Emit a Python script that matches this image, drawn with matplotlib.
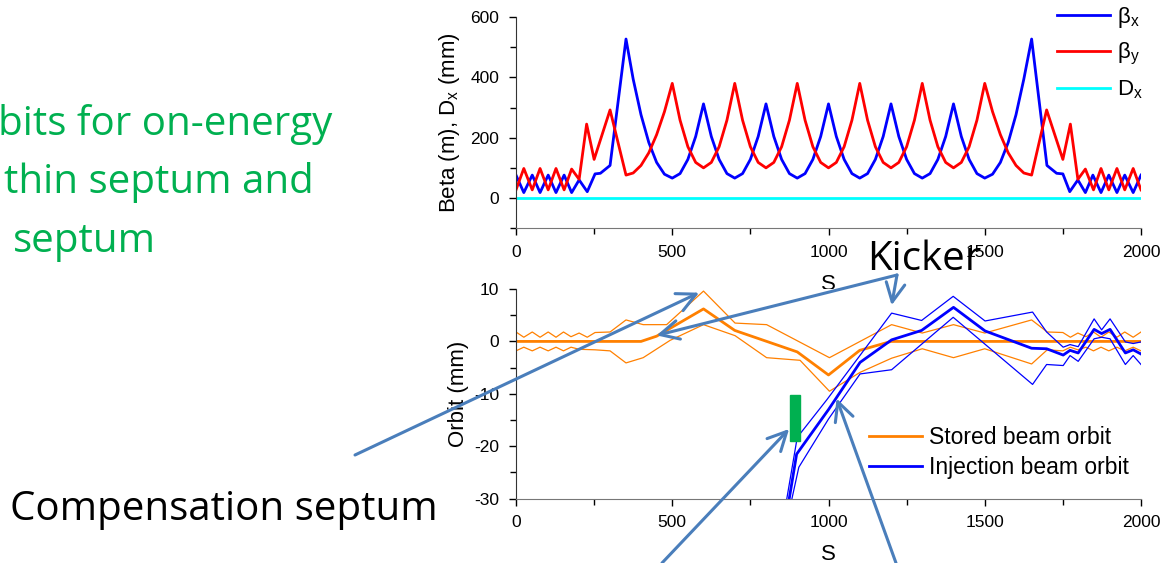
import numpy as np
import matplotlib
matplotlib.use("Agg")
import matplotlib.pyplot as plt
from matplotlib.patches import Rectangle

plt.rcParams['font.family'] = ['Liberation Sans', 'DejaVu Sans']
plt.rcParams['mathtext.fontset'] = 'custom'
plt.rcParams['mathtext.rm'] = 'Liberation Sans'
plt.rcParams['mathtext.it'] = 'Liberation Sans'
plt.rcParams['mathtext.default'] = 'regular'
plt.rcParams['axes.unicode_minus'] = False

# ---- beta functions (top panel) ----
bx_s = [0, 25, 52, 77, 103, 128, 154, 178, 202, 228, 253, 270, 301, 352, 375, 400, 425, 450, 475, 500,
        525, 550, 575, 600, 625, 650, 675, 700, 725, 750, 775, 800, 825, 850, 875, 900,
        925, 950, 975, 1000, 1025, 1050, 1075, 1100, 1125, 1150, 1175, 1200, 1225, 1250, 1275, 1300,
        1325, 1350, 1375, 1400, 1425, 1450, 1475, 1500, 1525, 1550, 1575, 1600, 1625, 1650,
        1699, 1730, 1750, 1772, 1798, 1822, 1846, 1872, 1897, 1923, 1948, 1975, 2000]
bx = [76, 18, 76, 18, 76, 18, 76, 18, 60, 21, 80, 82, 108, 527, 394, 276, 184, 118, 79, 66,
      81, 128, 204, 312, 204, 128, 81, 66, 81, 128, 204, 312, 204, 128, 81, 66,
      81, 128, 204, 312, 204, 128, 81, 66, 81, 128, 204, 312, 204, 128, 81, 66,
      81, 128, 204, 312, 204, 128, 81, 66, 79, 118, 184, 276, 394, 527,
      108, 82, 80, 21, 60, 18, 76, 18, 76, 18, 76, 18, 76]

by_s = [0, 25, 52, 77, 103, 128, 154, 178, 202, 226, 250, 301, 352, 375, 400, 425, 450, 475, 500,
        525, 550, 575, 600, 625, 650, 675, 700, 725, 750, 775, 800, 825, 850, 875, 900,
        925, 950, 975, 1000, 1025, 1050, 1075, 1100, 1125, 1150, 1175, 1200, 1225, 1250, 1275, 1300,
        1325, 1350, 1375, 1400, 1425, 1450, 1475, 1500, 1525, 1550, 1575, 1600, 1625, 1650,
        1698, 1750, 1774, 1798, 1822, 1848, 1872, 1897, 1923, 1948, 1975, 2000]
by = [27, 98, 27, 98, 27, 98, 27, 96, 62, 245, 128, 292, 76, 83, 108, 150, 210, 286, 380,
      258, 170, 118, 100, 118, 170, 258, 380, 258, 170, 118, 100, 118, 170, 258, 380,
      258, 170, 118, 100, 118, 170, 258, 380, 258, 170, 118, 100, 118, 170, 258, 380,
      258, 170, 118, 100, 118, 170, 258, 380, 286, 210, 150, 108, 83, 76,
      292, 128, 245, 62, 96, 27, 98, 27, 98, 27, 98, 27]

dx_s = [0, 2000]
dx = [0, 0]

# ---- orbits (bottom panel) ----
st_s = [0, 400, 450, 600, 700, 900, 1000, 1100, 1200, 2000]
st = [0, 0, 1.0, 6.2, 2.1, -2.0, -6.4, -1.7, 0, 0]

st_up_s = [0, 25, 52, 77, 103, 128, 152, 176, 202, 228, 253, 301, 352, 407, 482, 600, 701, 802,
           1003, 1202, 1300, 1400, 1500, 1650, 1700, 1750, 1774, 1798, 1824, 1848, 1872, 1897,
           1923, 1948, 1975, 2000]
st_up = [1.8, 0.8, 1.8, 0.8, 1.8, 0.8, 1.8, 0.9, 1.6, 0.8, 1.7, 1.8, 4.1, 3.2, 3.2, 9.6, 3.5, 3.2,
         -3.1, 3.2, 1.6, 3.2, 1.6, 4.1, 1.8, 1.7, 0.8, 1.6, 0.9, 1.8, 0.8, 1.8,
         0.8, 1.8, 0.8, 1.8]

st_lo_s = [0, 25, 52, 77, 103, 128, 152, 176, 202, 253, 301, 352, 407, 493, 600, 701, 802, 909,
           1003, 1101, 1202, 1300, 1400, 1500, 1650, 1700, 1750, 1774, 1798, 1824, 1848, 1872,
           1897, 1923, 1948, 1975, 2000]
st_lo = [-1.8, -1.1, -1.8, -1.1, -1.8, -1.1, -1.8, -1.1, -1.5, -1.6, -1.8, -4.1, -3.1, 0.2, 3.2, 1.1, -3.1, -3.6,
         -9.5, -5.9, -3.2, -1.4, -3.1, -1.4, -4.3, -1.6, -1.8, -1.1, -1.6, -1.1, -1.8, -1.1,
         -1.8, -1.1, -1.8, -1.1, -1.8]

inj_s = [866, 898, 1000, 1101, 1202, 1298, 1400, 1501, 1650, 1698, 1751, 1773, 1799, 1850, 1874,
         1901, 1950, 1975, 2000]
inj = [-33, -21.5, -13.0, -4.0, 0.3, 2.1, 6.5, 2.0, -1.3, -1.4, -2.6, -1.7, -2.2, 2.3, 1.5,
       2.3, -2.2, -1.6, -2.4]

inj_up_s = [858, 900, 995, 1202, 1298, 1399, 1501, 1653, 1698, 1751, 1773, 1799, 1850, 1874,
            1901, 1950, 1975, 2000]
inj_up = [-33, -18.3, -11.1, 5.4, 4.0, 8.6, 3.9, 5.6, 1.8, -1.1, -0.6, -1.0, 4.3, 2.2,
          4.3, -0.1, -0.4, -0.1]

inj_lo_s = [872, 905, 1000, 1101, 1202, 1399, 1653, 1698, 1751, 1773, 1799, 1850, 1874, 1901,
            1950, 1975, 2000]
inj_lo = [-33, -24, -14.8, -6.2, -5.4, 4.6, -8.2, -4.4, -4.6, -2.7, -3.8, 0.5, 0.8, 0.5,
          -4.4, -2.7, -4.4]

septum_s = [877, 909]
septum_y = [-19.0, -10.3]

ORANGE = '#FF8000'
ARROW = '#4A7EBB'
GREEN = '#00B050'
TICK_FS = 12.5
LAB_FS = 16

fig = plt.figure(figsize=(11.65, 5.63), dpi=100)
W, H = 1165.0, 563.0
ax1 = fig.add_axes([516 / W, 1 - 228.2 / H, 625 / W, (228.2 - 17) / H])
ax2 = fig.add_axes([516 / W, 1 - 498.7 / H, 625 / W, (498.7 - 289) / H])

for ax in (ax1, ax2):
    ax.spines['top'].set_visible(False)
    ax.spines['right'].set_visible(False)
    ax.spines['left'].set_color('#333333')
    ax.spines['bottom'].set_color('#777777')
    ax.set_xlim(0, 2000)
    ax.set_xticks([0, 500, 1000, 1500, 2000])
    ax.set_xticks([250, 750, 1250, 1750], minor=True)
    ax.tick_params(which='major', direction='out', length=5, width=1, labelsize=TICK_FS, pad=7)
    ax.tick_params(which='minor', direction='out', length=4, width=1)
    ax.tick_params(axis='y', pad=7)
    ax.set_xlabel('S', fontsize=LAB_FS, labelpad=10)

# top panel
ax1.plot(bx_s, bx, color='#0000FF', lw=2.0, label=r'$\beta_x$')
ax1.plot(by_s, by, color='#FF0000', lw=2.0, label=r'$\beta_y$')
ax1.plot(dx_s, dx, color='#00FFFF', lw=2.0, label=r'$D_x$')
ax1.set_ylim(-100, 600)
ax1.set_yticks([0, 200, 400, 600])
ax1.set_yticks([-100, 100, 300, 500], minor=True)
ax1.set_ylabel(r'Beta (m), D$_x$ (mm)', fontsize=LAB_FS, labelpad=6)
ax1.legend(loc='upper left', bbox_to_anchor=(1057 / W, 1 - 5 / H), bbox_transform=fig.transFigure,
           frameon=False, fontsize=16, handlelength=2.4, handletextpad=0.3, labelspacing=0.5,
           borderaxespad=0, borderpad=0)

# bottom panel
ax2.plot(st_up_s, st_up, color=ORANGE, lw=0.9)
ax2.plot(st_lo_s, st_lo, color=ORANGE, lw=0.9)
ax2.plot(st_s, st, color=ORANGE, lw=2.0, label='Stored beam orbit')
ax2.plot(inj_up_s, inj_up, color='#0000FF', lw=0.9)
ax2.plot(inj_lo_s, inj_lo, color='#0000FF', lw=0.9)
ax2.plot(inj_s, inj, color='#0000FF', lw=2.0, label='Injection beam orbit')
ax2.add_patch(Rectangle((septum_s[0], septum_y[0]), septum_s[1] - septum_s[0],
                        septum_y[1] - septum_y[0], color=GREEN, zorder=3))
ax2.set_ylim(-30, 10)
ax2.set_yticks([-30, -20, -10, 0, 10])
ax2.set_yticks([-25, -15, -5, 5], minor=True)
ax2.set_ylabel('Orbit (mm)', fontsize=LAB_FS, labelpad=4)
ax2.legend(loc='upper left', bbox_to_anchor=(869 / W, 1 - 426 / H), bbox_transform=fig.transFigure,
           frameon=False, fontsize=16.5, handlelength=2.3, handletextpad=0.3, labelspacing=0.3,
           borderaxespad=0, borderpad=0)

# annotations
big = dict(family=['Open Sans', 'DejaVu Sans'], fontsize=29)
fig.text(10 / W, 1 - 520 / H, 'Compensation septum', color='black', ha='left', va='baseline', **big)
fig.text(867 / W, 1 - 270 / H, 'Kicker', color='black', ha='left', va='baseline', **big)
fig.text(-2 / W, 1 - 135 / H, 'bits for on-energy', color=GREEN, ha='left', va='baseline', **big)
fig.text(4 / W, 1 - 193 / H, 'thin septum and', color=GREEN, ha='left', va='baseline', **big)
fig.text(13 / W, 1 - 252 / H, 'septum', color=GREEN, ha='left', va='baseline', **big)

aprops = dict(arrowstyle='->,head_length=0.9,head_width=0.45', color=ARROW, lw=2.2,
              mutation_scale=15, shrinkA=0, shrinkB=0)
# to the stored-beam bump, from the compensation septum label
ax2.annotate('', xy=(586, 9.3), xycoords='data', xytext=(355 / W, 1 - 455 / H),
             textcoords='figure fraction', arrowprops=aprops, annotation_clip=False)
# kicker arrows
kick = (897 / W, 1 - 275 / H)
ax2.annotate('', xy=(450, 1.15), xycoords='data', xytext=kick,
             textcoords='figure fraction', arrowprops=aprops, annotation_clip=False)
ax2.annotate('', xy=(1202, 6.9), xycoords='data', xytext=kick,
             textcoords='figure fraction', arrowprops=aprops, annotation_clip=False)
# thin septum / injection point arrows from below
ax2.annotate('', xy=(874, -16.7), xycoords='data', xytext=(662 / W, 0),
             textcoords='figure fraction', arrowprops=aprops, annotation_clip=False)
ax2.annotate('', xy=(1026, -10.9), xycoords='data', xytext=(896 / W, 0),
             textcoords='figure fraction', arrowprops=aprops, annotation_clip=False)

fig.savefig('out.png', dpi=100)
